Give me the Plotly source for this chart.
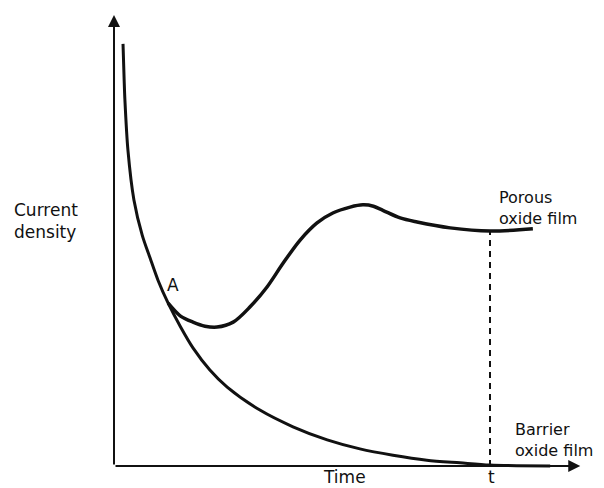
import plotly.graph_objects as go

# ---- data (arbitrary units: time, current density) ----
barrier_time = [0.24, 0.27, 0.29, 0.37, 0.53, 0.75, 0.96, 1.17, 1.44, 1.76, 2.10, 2.55,
                3.01, 3.88, 4.76, 5.67, 6.54, 7.42, 8.32, 9.20, 10.0, 11.60]
barrier_current = [9.36, 8.56, 8.12, 7.01, 5.90, 5.12, 4.61, 4.12, 3.61, 3.10, 2.62, 2.13,
                   1.75, 1.24, 0.87, 0.58, 0.38, 0.24, 0.13, 0.07, 0.02, 0.0]

porous_time = [1.44, 1.76, 2.10, 2.42, 2.74, 3.17, 3.62, 4.07, 4.50, 4.95, 5.40, 5.82,
               6.28, 6.62, 6.90, 7.15, 7.61, 8.06, 8.94, 10.0, 11.14]
porous_current = [3.61, 3.33, 3.19, 3.10, 3.08, 3.19, 3.53, 3.97, 4.50, 5.01, 5.39, 5.61,
                  5.74, 5.79, 5.76, 5.67, 5.50, 5.41, 5.28, 5.21, 5.26]

t_mark = 10.0
point_a = (1.44, 3.61)
axis_time_max = 12.4
axis_current_max = 10.0

ink = "#111111"
font = dict(family="DejaVu Sans", size=17, color=ink)
font_small = dict(family="DejaVu Sans", size=16, color=ink)

fig = go.Figure()

fig.add_trace(go.Scatter(x=barrier_time, y=barrier_current, mode="lines",
                         line=dict(color=ink, width=3, shape="spline", smoothing=0.8),
                         hoverinfo="skip", showlegend=False))
fig.add_trace(go.Scatter(x=porous_time, y=porous_current, mode="lines",
                         line=dict(color=ink, width=3.5, shape="spline", smoothing=0.9),
                         hoverinfo="skip", showlegend=False))

# dashed marker at time t
t_idx = porous_time.index(t_mark)
fig.add_trace(go.Scatter(x=[t_mark, t_mark], y=[0, porous_current[t_idx]], mode="lines",
                         line=dict(color=ink, width=2, dash="6px,5px"),
                         hoverinfo="skip", showlegend=False))

annotations = [
    # axes with arrowheads
    dict(x=0, y=axis_current_max, ax=0, ay=0, xref="x", yref="y", axref="x", ayref="y",
         text="", showarrow=True, arrowhead=2, arrowsize=1.2, arrowwidth=2, arrowcolor=ink),
    dict(x=axis_time_max, y=0, ax=0, ay=0, xref="x", yref="y", axref="x", ayref="y",
         text="", showarrow=True, arrowhead=2, arrowsize=1.2, arrowwidth=2, arrowcolor=ink),
    # labels
    dict(x=-2.71, y=5.68, text="Current", xanchor="left", yanchor="middle", font=font),
    dict(x=-2.71, y=5.19, text="density", xanchor="left", yanchor="middle", font=font),
    dict(x=10.19, y=5.73, text="Porous<br>oxide film", xanchor="left", yanchor="middle",
         align="left", font=font_small),
    dict(x=10.61, y=0.58, text="Barrier<br>oxide film", xanchor="left", yanchor="middle",
         align="left", font=font_small),
    dict(x=6.14, y=-0.24, text="Time", xanchor="center", yanchor="middle", font=font),
    dict(x=t_mark + 0.05, y=-0.24, text="t", xanchor="center", yanchor="middle", font=font),
    dict(x=point_a[0] + 0.13, y=point_a[1] + 0.40, text="A", xanchor="center", yanchor="middle",
         font=font),
]
for a in annotations:
    a.setdefault("showarrow", False)
    a.setdefault("xref", "x")
    a.setdefault("yref", "y")

fig.update_layout(
    width=604, height=488,
    margin=dict(l=0, r=0, t=0, b=0),
    paper_bgcolor="white", plot_bgcolor="white",
    xaxis=dict(range=[-114 / 37.6, (604 - 114) / 37.6], visible=False, fixedrange=True),
    yaxis=dict(range=[(466 - 488) / 45.1, 466 / 45.1], visible=False, fixedrange=True),
    annotations=annotations,
    showlegend=False,
)

fig.write_html("out.html")
